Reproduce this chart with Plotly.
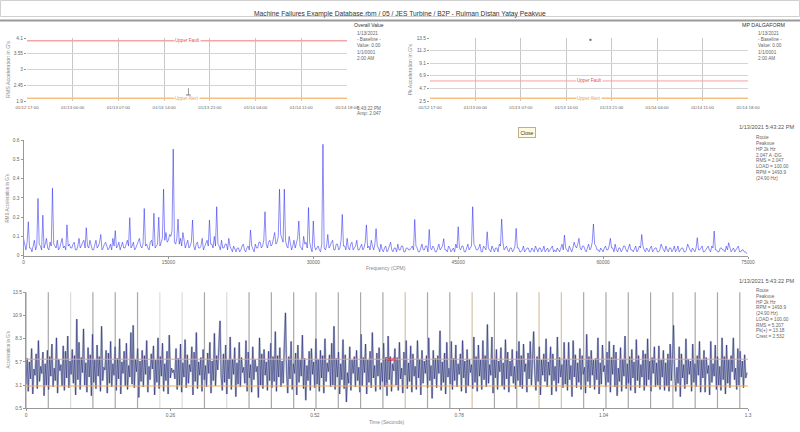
import plotly.graph_objects as go

# header / page text
page_title = "Machine Failures Example Database.rbm / 05 / JES Turbine / B2P - Rulman Distan Yatay Peakvue"
reading_time = "2021-01-13 17:43:22"

# trend plots (overall value and peak waveform value)
overall_value = [2.047]
overall_fault = 4.0
overall_alert = 2.0
peak_value = [13.18]
peak_fault = 6.0
peak_alert = 3.0

# spectrum, 0..75000 CPM every 125 CPM
spectrum_step = 125
spectrum = [
    0.09, 0.05, 0.03, 0.07, 0.176, 0.04, 0.04, 0.02, 0.06, 0.08, 0.03, 0.05, 0.297, 0.06, 0.05, 0.03, 0.21, 0.04, 0.06, 0.09,
    0.04, 0.03, 0.07, 0.05, 0.35, 0.06, 0.05, 0.04, 0.08, 0.03, 0.04, 0.07, 0.09, 0.04, 0.05, 0.03, 0.16, 0.05, 0.06, 0.04,
    0.04, 0.06, 0.07, 0.03, 0.03, 0.05, 0.09, 0.04, 0.05, 0.07, 0.08, 0.04, 0.145, 0.05, 0.04, 0.08, 0.06, 0.03, 0.03, 0.05,
    0.08, 0.04, 0.05, 0.07, 0.11, 0.03, 0.04, 0.06, 0.07, 0.05, 0.03, 0.04, 0.06, 0.03, 0.09, 0.05, 0.13, 0.04, 0.05, 0.07,
    0.03, 0.05, 0.07, 0.04, 0.04, 0.06, 0.08, 0.05, 0.197, 0.04, 0.05, 0.07, 0.03, 0.04, 0.06, 0.08, 0.09, 0.05, 0.04, 0.06,
    0.245, 0.05, 0.06, 0.04, 0.03, 0.07, 0.08, 0.05, 0.22, 0.04, 0.05, 0.06, 0.2, 0.05, 0.07, 0.09, 0.345, 0.08, 0.12, 0.07,
    0.08, 0.11, 0.1, 0.13, 0.553, 0.07, 0.06, 0.09, 0.19, 0.06, 0.09, 0.05, 0.12, 0.07, 0.04, 0.06, 0.08, 0.04, 0.05, 0.07,
    0.185, 0.05, 0.03, 0.06, 0.07, 0.04, 0.04, 0.05, 0.09, 0.03, 0.05, 0.07, 0.08, 0.05, 0.185, 0.06, 0.06, 0.04, 0.1, 0.05,
    0.254, 0.06, 0.05, 0.03, 0.08, 0.04, 0.04, 0.06, 0.06, 0.03, 0.09, 0.05, 0.03, 0.02, 0.05, 0.03, 0.02, 0.04, 0.04, 0.02,
    0.03, 0.05, 0.06, 0.03, 0.02, 0.04, 0.05, 0.03, 0.133, 0.05, 0.03, 0.02, 0.06, 0.04, 0.04, 0.07, 0.07, 0.04, 0.05, 0.08,
    0.228, 0.06, 0.04, 0.07, 0.08, 0.05, 0.06, 0.09, 0.12, 0.06, 0.07, 0.1, 0.345, 0.11, 0.09, 0.07, 0.345, 0.08, 0.05, 0.04,
    0.1, 0.06, 0.03, 0.05, 0.08, 0.04, 0.06, 0.09, 0.18, 0.05, 0.04, 0.03, 0.1, 0.06, 0.07, 0.04, 0.25, 0.07, 0.04, 0.02,
    0.18, 0.05, 0.03, 0.04, 0.05, 0.03, 0.02, 0.06, 0.578, 0.04, 0.03, 0.05, 0.11, 0.04, 0.05, 0.07, 0.08, 0.03, 0.03, 0.06,
    0.06, 0.03, 0.04, 0.08, 0.214, 0.05, 0.05, 0.03, 0.09, 0.04, 0.03, 0.06, 0.07, 0.03, 0.04, 0.05, 0.08, 0.03, 0.03, 0.05,
    0.06, 0.03, 0.04, 0.07, 0.16, 0.04, 0.05, 0.03, 0.08, 0.05, 0.03, 0.06, 0.14, 0.05, 0.04, 0.02, 0.06, 0.03, 0.02, 0.04,
    0.05, 0.02, 0.03, 0.05, 0.07, 0.03, 0.02, 0.04, 0.04, 0.02, 0.06, 0.03, 0.03, 0.05, 0.05, 0.02, 0.02, 0.04, 0.04, 0.03,
    0.03, 0.04, 0.05, 0.03, 0.188, 0.05, 0.04, 0.02, 0.02, 0.04, 0.06, 0.03, 0.03, 0.05, 0.05, 0.02, 0.136, 0.04, 0.03, 0.05,
    0.04, 0.02, 0.02, 0.04, 0.06, 0.03, 0.04, 0.05, 0.088, 0.03, 0.03, 0.02, 0.05, 0.04, 0.02, 0.03, 0.04, 0.02, 0.06, 0.04,
    0.15, 0.04, 0.03, 0.05, 0.05, 0.02, 0.02, 0.04, 0.06, 0.03, 0.04, 0.05, 0.254, 0.06, 0.05, 0.03, 0.03, 0.04, 0.06, 0.02,
    0.02, 0.05, 0.04, 0.03, 0.124, 0.04, 0.03, 0.02, 0.05, 0.03, 0.02, 0.04, 0.04, 0.02, 0.06, 0.05, 0.19, 0.07, 0.03, 0.04,
    0.05, 0.03, 0.02, 0.04, 0.04, 0.02, 0.03, 0.05, 0.142, 0.04, 0.04, 0.02, 0.02, 0.03, 0.05, 0.02, 0.03, 0.04, 0.04, 0.02,
    0.02, 0.04, 0.03, 0.02, 0.05, 0.03, 0.02, 0.04, 0.04, 0.02, 0.03, 0.05, 0.02, 0.03, 0.04, 0.02, 0.03, 0.04, 0.05, 0.02,
    0.03, 0.02, 0.04, 0.03, 0.02, 0.04, 0.06, 0.03, 0.107, 0.04, 0.03, 0.02, 0.05, 0.03, 0.02, 0.04, 0.07, 0.05, 0.04, 0.06,
    0.09, 0.04, 0.03, 0.05, 0.05, 0.03, 0.02, 0.04, 0.06, 0.03, 0.04, 0.07, 0.164, 0.06, 0.05, 0.03, 0.03, 0.02, 0.04, 0.03,
    0.02, 0.04, 0.05, 0.03, 0.03, 0.05, 0.09, 0.04, 0.04, 0.02, 0.06, 0.03, 0.02, 0.04, 0.04, 0.02, 0.03, 0.05, 0.05, 0.03,
    0.02, 0.04, 0.06, 0.03, 0.03, 0.02, 0.04, 0.05, 0.02, 0.03, 0.05, 0.04, 0.11, 0.05, 0.03, 0.02, 0.04, 0.03, 0.02, 0.04,
    0.05, 0.02, 0.03, 0.04, 0.04, 0.02, 0.02, 0.03, 0.06, 0.04, 0.03, 0.02, 0.05, 0.03, 0.02, 0.04, 0.04, 0.02, 0.03, 0.05,
    0.02, 0.03, 0.05, 0.02, 0.03, 0.04, 0.04, 0.02, 0.02, 0.03, 0.06, 0.04, 0.03, 0.02, 0.04, 0.03, 0.02, 0.04, 0.093, 0.03,
    0.03, 0.04, 0.05, 0.02, 0.02, 0.03, 0.04, 0.05, 0.03, 0.02, 0.05, 0.04, 0.128, 0.03, 0.03, 0.02, 0.02, 0.04, 0.04, 0.03,
    0.03, 0.02, 0.05, 0.03, 0.067, 0.04, 0.02, 0.03, 0.04, 0.02, 0.03, 0.04, 0.05, 0.02, 0.02, 0.03, 0.03, 0.02, 0.02, 0.01,
]

# time waveform, 1.3 s, 640 samples
wave_dt = 1.3 / 640
waveform = [
    3.2, 6.1, 2.4, 5.7, 3.8, 7.2, 2.1, 4.9, 4.2, 6.6, 2.7, 8.1, 3.5, 5.2, 4.4, 6.8, 1.9, 5.5, 3.1, 7.0,
    2.6, 6.3, 4.1, 7.7, 2.9, 5.0, 3.6, 8.4, 2.2, 6.0, 4.7, 5.4, 3.0, 7.5, 2.5, 6.9, 3.9, 8.6, 2.8, 5.8,
    4.3, 7.1, 3.3, 6.4, 2.0, 10.5, 3.7, 7.9, 2.6, 6.2, 4.5, 9.4, 3.1, 5.6, 2.3, 7.3, 4.0, 6.5, 1.9, 8.8,
    3.4, 5.9, 2.7, 7.6, 4.1, 6.3, 2.4, 9.7, 3.6, 5.1, 4.8, 7.0, 2.2, 6.7, 3.3, 8.0, 2.9, 5.5, 4.2, 7.4,
    2.5, 6.1, 3.8, 8.3, 2.1, 5.7, 4.4, 6.9, 3.0, 7.8, 2.6, 5.3, 4.0, 9.0, 3.2, 9.8, 2.8, 6.0, 4.6, 7.2,
    1.7, 5.8, 3.5, 7.0, 2.9, 6.4, 4.3, 8.1, 2.3, 5.2, 3.7, 6.6, 4.9, 7.5, 2.0, 5.9, 3.4, 8.4, 2.7, 6.3,
    4.1, 7.8, 2.4, 5.5, 3.6, 6.9, 2.1, 8.7, 3.9, 5.0, 4.5, 4.8, 3.8, 7.2, 2.6, 6.1, 3.1, 7.7, 2.3, 5.6,
    4.0, 8.2, 2.8, 6.5, 3.3, 5.4, 4.6, 7.4, 2.0, 6.8, 3.5, 9.0, 2.7, 5.7, 4.2, 6.2, 2.4, 7.1, 3.7, 5.3,
    2.9, 6.7, 4.4, 7.9, 2.2, 5.8, 3.6, 8.9, 3.0, 6.4, 4.8, 7.0, 10.3, 4.1, 2.5, 6.6, 3.4, 7.6, 2.1, 5.9,
    3.8, 8.5, 2.6, 6.0, 4.3, 7.3, 1.8, 5.6, 3.2, 7.9, 2.9, 6.2, 4.5, 5.1, 3.3, 8.1, 2.4, 6.8, 3.9, 5.4,
    2.3, 7.4, 3.7, 6.0, 4.6, 5.2, 1.7, 8.4, 3.1, 6.6, 2.7, 7.1, 4.2, 5.7, 2.5, 6.9, 3.6, 7.8, 2.8, 6.3,
    3.5, 9.1, 2.4, 6.4, 4.0, 7.3, 2.9, 5.8, 3.3, 7.6, 11.2, 4.5, 2.2, 6.3, 3.8, 8.0, 2.6, 5.5, 4.4, 6.7,
    2.0, 7.6, 3.4, 5.9, 4.1, 8.7, 2.7, 6.1, 1.4, 5.3, 3.6, 6.9, 2.5, 7.2, 4.3, 5.7, 2.8, 8.3, 3.2, 6.0,
    2.4, 7.0, 3.9, 6.4, 2.2, 8.3, 3.5, 5.6, 4.6, 6.5, 2.9, 7.8, 3.1, 9.7, 2.6, 6.1, 4.0, 6.8, 2.1, 5.5,
    3.7, 8.2, 2.7, 6.5, 1.2, 4.5, 3.3, 7.4, 2.5, 5.9, 4.4, 6.3, 2.9, 7.0, 3.6, 5.1, 2.3, 8.8, 3.0, 6.2,
    4.5, 7.7, 2.1, 5.9, 3.4, 6.9, 2.8, 9.0, 3.9, 5.3, 2.4, 6.7, 4.1, 7.3, 2.6, 5.6, 3.5, 7.8, 2.9, 6.1,
    1.9, 8.6, 3.7, 6.3, 2.4, 5.5, 4.7, 7.2, 3.1, 6.2, 2.5, 7.9, 3.8, 5.0, 2.2, 6.8, 4.2, 8.1, 2.7, 5.6,
    3.5, 7.5, 2.3, 6.6, 4.1, 5.2, 2.6, 8.1, 3.9, 6.0, 2.0, 7.0, 3.3, 5.8, 4.4, 6.4, 2.8, 8.4, 3.6, 5.3,
    1.6, 7.0, 3.8, 6.1, 2.8, 6.4, 4.4, 9.2, 2.5, 5.7, 3.4, 6.7, 2.1, 7.9, 4.0, 5.0, 3.2, 8.0, 2.6, 6.1,
    3.6, 7.6, 2.9, 5.5, 4.3, 6.6, 2.4, 8.1, 3.9, 5.8, 2.2, 7.1, 3.0, 6.0, 4.5, 5.4, 2.7, 8.5, 3.4, 6.3,
    2.4, 7.6, 4.1, 5.9, 2.6, 8.1, 3.7, 6.4, 2.9, 9.9, 3.3, 5.4, 4.2, 8.5, 2.2, 6.0, 3.9, 7.1, 2.6, 5.8,
    4.6, 7.3, 3.0, 5.6, 2.6, 8.2, 3.8, 6.8, 2.3, 5.8, 4.1, 7.1, 3.3, 5.2, 2.7, 6.9, 3.6, 8.0, 2.9, 6.4,
    2.7, 7.7, 4.6, 5.5, 2.3, 6.7, 3.8, 8.0, 3.1, 6.1, 9.1, 4.4, 2.5, 6.3, 3.5, 7.4, 2.0, 5.9, 4.2, 6.6,
    3.5, 8.3, 2.9, 5.7, 4.2, 7.4, 2.0, 6.6, 3.6, 5.2, 2.4, 8.5, 3.3, 6.2, 4.0, 5.4, 2.8, 7.9, 3.2, 6.0,
    2.5, 7.9, 3.7, 5.3, 1.8, 8.1, 4.0, 6.5, 2.8, 5.6, 3.4, 7.2, 2.6, 6.4, 4.3, 5.1, 2.2, 8.8, 3.5, 6.3,
    2.8, 7.0, 4.2, 5.9, 2.6, 6.1, 3.7, 8.4, 2.1, 5.6, 3.2, 7.6, 4.6, 5.3, 2.9, 6.8, 3.4, 8.0, 2.3, 6.2,
    4.3, 7.6, 2.9, 6.8, 1.9, 5.0, 3.5, 7.3, 2.4, 6.0, 4.1, 8.6, 2.7, 5.5, 3.3, 6.3, 2.5, 7.1, 3.9, 5.7,
    2.2, 8.2, 3.6, 6.4, 2.8, 5.4, 4.0, 7.0, 2.5, 6.6, 3.0, 8.3, 3.7, 5.8, 2.4, 6.2, 4.4, 7.4, 2.9, 5.6,
    3.1, 7.5, 2.6, 5.9, 4.0, 7.0, 2.5, 5.6, 3.0, 6.6, 2.4, 7.7, 3.6, 6.0, 9.8, 4.3, 2.4, 5.1, 3.3, 7.4,
    1.8, 6.6, 3.9, 5.4, 2.7, 8.3, 3.2, 6.0, 4.3, 5.8, 2.4, 7.7, 3.4, 5.5, 2.9, 6.4, 4.2, 8.0, 2.3, 5.9,
    3.9, 7.0, 2.3, 6.2, 4.4, 5.3, 2.0, 8.0, 3.4, 5.5, 4.1, 7.6, 2.6, 6.3, 3.1, 5.2, 2.5, 8.4, 3.7, 6.3,
    2.1, 7.6, 3.3, 5.9, 2.8, 6.4, 4.6, 8.4, 3.7, 5.0, 2.6, 7.2, 3.1, 6.9, 4.0, 5.8, 2.8, 6.5, 3.9, 4.5,
]
wave_fault = 6.0
wave_alert = 3.0

rpm = 1493.9
# run-speed marker colours, one per revolution line
rev_colors = ["#a8a8a8", "#a8a8a8", "#dcdcdc", "#a8a8a8", "#a8a8a8", "#a8a8a8", "#dcdcdc", "#dcdcdc", "#a8a8a8",
              "#dcdcdc", "#a8a8a8", "#a8a8a8", "#a8a8a8", "#a8a8a8", "#a8a8a8", "#a8a8a8", "#a8a8a8", "#d8c0a8",
              "#a8a8a8", "#a8a8a8", "#d8c0a8", "#a8a8a8", "#a8a8a8", "#d8c0a8", "#d8c0a8", "#a8a8a8", "#a8a8a8",
              "#a8a8a8", "#a8a8a8", "#a8a8a8", "#a8a8a8", "#a8a8a8", "#a8a8a8"]

overall_info = ["1/13/2021", "- Baseline -", "Value: 0.00", "1/1/0001", "2:00 AM"]
spectrum_info = ["Route", "Peakvue", "HP 2k Hz", "2.047 A -DG", "RMS = 2.047", "LOAD = 100.00",
                 "RPM = 1493.9", "(24.90 Hz)"]
wave_info = ["Route", "Peakvue", "HP 2k Hz", "RPM = 1493.9", "(24.90 Hz)", "LOAD = 100.00",
             "RMS = 5.207", "Pk(+) = 13.18", "Crest = 2.532"]

W, H = 800, 432
FONT = "Liberation Sans, Arial, sans-serif"
GREY = "#666666"


def px(x):
    return x / W


def py(y):
    return 1 - y / H


fig = go.Figure()

# overall trend
fig.add_trace(go.Scatter(x=[reading_time], y=overall_value, mode="markers",
                         marker=dict(symbol="square", size=4, color="#909090", line=dict(color="#555", width=0.5)),
                         error_y=dict(type="data", array=[0.3], arrayminus=[0.15], color="#999999", thickness=1, width=0),
                         xaxis="x", yaxis="y", showlegend=False))
# peak trend
fig.add_trace(go.Scatter(x=[reading_time], y=peak_value, mode="markers",
                         marker=dict(symbol="square", size=2, color="#666666"),
                         xaxis="x2", yaxis="y2", showlegend=False))
# spectrum
fig.add_trace(go.Scatter(y=spectrum, x0=0, dx=spectrum_step, mode="lines",
                         line=dict(color="rgba(30,30,240,0.5)", width=1),
                         xaxis="x3", yaxis="y3", showlegend=False))
# waveform
fig.add_trace(go.Scatter(y=waveform, x0=0, dx=wave_dt, mode="lines",
                         line=dict(color="#b4bdcc", width=2),
                         xaxis="x4", yaxis="y4", showlegend=False))
fig.add_trace(go.Scatter(y=waveform, x0=0, dx=wave_dt, mode="lines",
                         line=dict(color="rgba(0,0,100,0.7)", width=0.6),
                         xaxis="x4", yaxis="y4", showlegend=False))

tickfont = dict(family=FONT, size=4.8, color=GREY)
common = dict(automargin=False, zeroline=False, tickfont=tickfont)

trend_x = dict(common, type="date", range=["2021-01-12 17:00", "2021-01-14 18:00"], tick0="2021-01-12 17:00",
               dtick=7 * 3600 * 1000, tickformat="%m/%d %H:%M", showgrid=True, gridcolor="#c8c8c8",
               ticks="", showline=False, tickfont=dict(tickfont, size=4.4), ticklabelstandoff=3)
trend_y = dict(common, showgrid=True, gridcolor="#d4d4d4", ticks="outside", ticklen=2, tickcolor="#999")
plot_x = dict(common, showgrid=False, showline=True, linecolor="#999", ticks="outside", ticklen=2, tickcolor="#999")
plot_y = dict(plot_x)

fig.update_layout(
    xaxis=dict(trend_x, domain=[px(27), px(347)], anchor="y"),
    yaxis=dict(trend_y, domain=[py(101), py(38)], range=[1.9, 4.1], tick0=1.9, dtick=0.55, anchor="x"),
    xaxis2=dict(trend_x, domain=[px(430), px(748)], anchor="y2"),
    yaxis2=dict(trend_y, domain=[py(101), py(38)], range=[2.5, 13.5], tick0=2.5, dtick=2.2, anchor="x2"),
    xaxis3=dict(plot_x, domain=[px(23.5), px(748)], range=[0, 75000], tick0=0, dtick=15000, anchor="y3",
                tickformat="d"),
    yaxis3=dict(plot_y, domain=[py(255.7), py(140)], range=[0, 0.6], tick0=0, dtick=0.1, anchor="x3"),
    xaxis4=dict(plot_x, domain=[px(26), px(748)], range=[0, 1.3], tick0=0, dtick=0.26, anchor="y4"),
    yaxis4=dict(plot_y, domain=[py(408.3), py(292.3)], range=[0.5, 13.5], tick0=0.5, dtick=2.6, anchor="x4"),
)

shapes = []
annotations = []

# header box
shapes.append(dict(type="rect", xref="paper", yref="paper", x0=px(0.5), x1=px(799.5), y0=py(16.5), y1=py(0.5),
                   line=dict(color="#d0d0d0", width=1), fillcolor="white", layer="below"))
shapes.append(dict(type="line", xref="paper", yref="paper", x0=0, x1=1, y0=py(20.5), y1=py(20.5),
                   line=dict(color="#9a9a9a", width=2)))
annotations.append(dict(text=page_title, xref="paper", yref="paper", x=0.5, y=py(8), showarrow=False,
                        font=dict(family=FONT, size=6.7, color="#333")))


def hline(xa, ya, val, color, width=1):
    shapes.append(dict(type="line", xref=f"{xa} domain", yref=ya, x0=0, x1=1, y0=val, y1=val,
                       line=dict(color=color, width=width)))


def limit_label(xa, ya, val, text, color):
    annotations.append(dict(text=text, xref=f"{xa} domain", yref=ya, x=0.5, y=val, showarrow=False,
                            font=dict(family=FONT, size=4.6, color=color), bgcolor="white", borderpad=0))


# alarm limits
hline("x", "y", overall_fault, "#f4a6a6", 1.5)
hline("x", "y", overall_alert, "#f7c080", 1.5)
limit_label("x", "y", overall_fault, "Upper Fault", "#e05050")
limit_label("x", "y", overall_alert, "Upper Alert", "#e8a060")
hline("x2", "y2", peak_fault, "#f4a0a0", 1)
hline("x2", "y2", peak_alert, "#f7c080", 1.5)
limit_label("x2", "y2", peak_fault, "Upper Fault", "#e05050")
limit_label("x2", "y2", peak_alert, "Upper Alert", "#e8a060")

# revolution markers on the waveform
period = 60.0 / rpm
for k, c in enumerate(rev_colors):
    t = k * period
    if t > 1.3:
        break
    shapes.append(dict(type="line", xref="x4", yref="y4 domain", x0=t, x1=t, y0=0, y1=1,
                       line=dict(color=c, width=1.2), layer="below"))

hline("x4", "y4", wave_fault, "#f0a080", 1)
hline("x4", "y4", wave_alert, "#f5a850", 1)
annotations.append(dict(text="<b>Fault</b>", xref="x4 domain", yref="y4", x=0.495, y=wave_fault, showarrow=False,
                        font=dict(family=FONT, size=4.6, color="#d03030"), xanchor="left"))
annotations.append(dict(text="Alert", xref="x4 domain", yref="y4", x=0.495, y=wave_alert, showarrow=False,
                        font=dict(family=FONT, size=4.6, color="#f0b080"), xanchor="left"))


def text_at(x, y, s, size=4.7, color=GREY, anchor="left", angle=0):
    annotations.append(dict(text=s, xref="paper", yref="paper", x=px(x), y=py(y), showarrow=False,
                            xanchor=anchor, yanchor="middle", textangle=angle,
                            font=dict(family=FONT, size=size, color=color)))


def text_block(x, y0, lines, step=6.0):
    for i, s in enumerate(lines):
        text_at(x, y0 + i * step, s)


# axis titles
text_at(7.5, 69.5, "RMS Acceleration in G's", size=5.3, color="#888", anchor="center", angle=-90)
text_at(409, 69.5, "Pk Acceleration in G's", size=5.3, color="#888", anchor="center", angle=-90)
text_at(7.5, 198, "RMS Acceleration in G's", size=4.5, color="#888", anchor="center", angle=-90)
text_at(7.5, 350, "Acceleration in G's", size=4.5, color="#888", anchor="center", angle=-90)
text_at(386, 267.5, "Frequency (CPM)", size=5, color="#888", anchor="center")
text_at(386.5, 421.5, "Time (Seconds)", size=5, color="#888", anchor="center")

text_at(386, 25, "Overall Value", size=5, color="#333", anchor="right")
text_block(355, 33.3, overall_info, step=6.3)
text_at(355, 108.3, "5:43:22 PM")
text_at(355, 114, "Amp: 2.047")

text_at(787, 25, "MP DALGAFORM", size=5.3, color="#333", anchor="right")
text_block(756, 33.3, overall_info, step=6.3)

text_at(796, 127, "1/13/2021 5:43:22 PM", size=5.6, color="#555", anchor="right")
text_block(754, 137.3, spectrum_info, step=5.9)
text_at(796, 281, "1/13/2021 5:43:22 PM", size=5.6, color="#555", anchor="right")
text_block(754, 290.7, wave_info, step=5.75)

# close button
annotations.append(dict(text="Close", xref="paper", yref="paper", x=px(535.7), y=py(127), showarrow=False,
                        font=dict(family=FONT, size=5, color="#333"), bgcolor="#fffbe0",
                        bordercolor="#b8b090", borderwidth=1, borderpad=1.5))

fig.update_layout(shapes=shapes, annotations=annotations, width=W, height=H,
                  margin=dict(l=0, r=0, t=0, b=0), paper_bgcolor="white", plot_bgcolor="white",
                  font=dict(family=FONT, size=5, color=GREY), showlegend=False)

fig.write_html("out.html", config={"displayModeBar": False},
               post_script="document.body.style.margin='0';")
